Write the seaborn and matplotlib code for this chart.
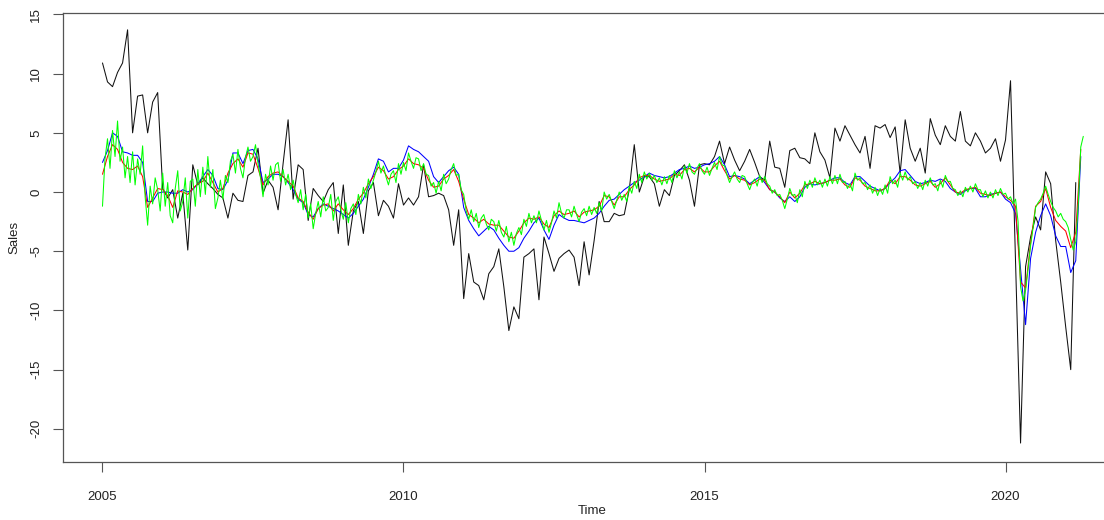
import numpy as np
import pandas as pd
import matplotlib
matplotlib.use("Agg")
import matplotlib.pyplot as plt
from matplotlib import font_manager
import seaborn as sns

# ---- monthly sales (black), Jan 2005 - Mar 2021 ----
sales = [
    10.9, 9.3, 8.9, 10.1, 10.9, 13.7, 5.0, 8.1, 8.2, 5.0, 7.6, 8.4,
    0.3, -0.5, 0.2, -2.2, -0.1, -4.9, 2.3, 0.6, 1.2, 0.7, 0.3, -0.2,
    -0.5, -2.2, -0.1, -0.7, -0.8, 1.4, 1.7, 3.7, -0.1, 1.0, 0.4, -1.5,
    2.4, 6.1, -0.6, 2.3, 1.9, -2.4, 0.3, -0.3, -0.8, 0.2, 0.8, -3.5,
    0.6, -4.5, -1.6, -0.8, -3.5, 0.1, 0.8, -2.0, -0.7, -1.2, -2.2, 0.7,
    -1.1, -0.5, -1.1, -0.4, 2.3, -0.4, -0.3, -0.1, -0.3, -1.5, -4.5, -1.5,
    -9.0, -5.2, -7.6, -7.9, -9.1, -6.9, -6.3, -4.8, -8.0, -11.7, -9.7, -10.7,
    -5.5, -5.2, -4.8, -9.1, -3.8, -5.2, -6.7, -5.6, -5.2, -4.9, -5.5, -7.9,
    -4.2, -7.0, -4.1, -0.8, -2.5, -2.5, -1.8, -2.0, -1.9, 0.2, 4.0, 0.0,
    1.3, 1.3, 0.7, -1.2, 0.2, -0.3, 1.4, 1.8, 2.3, 1.0, -1.2, 2.3,
    2.4, 2.3, 3.0, 4.3, 2.4, 3.8, 2.7, 1.8, 2.6, 3.6, 2.5, 1.3,
    1.0, 4.3, 2.1, 2.0, 0.4, 3.5, 3.7, 2.9, 2.8, 2.4, 5.0, 3.4,
    2.7, 1.2, 5.4, 4.3, 5.6, 4.8, 4.0, 3.3, 4.7, 2.0, 5.6, 5.4,
    5.7, 4.6, 5.5, 1.6, 6.1, 3.7, 2.6, 3.7, 1.6, 6.2, 4.8, 4.0,
    5.6, 4.7, 4.3, 6.8, 4.3, 3.9, 5.0, 4.3, 3.3, 3.7, 4.5, 2.6,
    4.4, 9.4, -6.0, -21.2, -6.3, -3.8, -2.1, -3.2, 1.7, 0.7, -4.1, -7.6,
    -11.4, -15.0, 0.8,
]

# ---- smoothed fit (blue), Jan 2005 - Apr 2021 ----
fit_blue = [
    2.5, 3.5, 5.0, 4.7, 3.4, 3.3, 3.1, 3.1, 2.5, -0.8, -0.8, -0.1,
    0.0, 0.0, -0.1, -0.1, 0.2, 0.0, 0.2, 0.7, 1.3, 1.9, 1.4, 0.3,
    0.2, 1.0, 3.3, 3.3, 2.4, 3.5, 3.6, 2.8, 0.8, 1.1, 1.5, 1.5,
    1.3, 0.8, 0.2, -0.6, -0.9, -1.9, -2.1, -1.4, -1.0, -1.2, -1.4, -1.6,
    -1.9, -2.2, -1.8, -1.2, -0.6, 0.4, 1.5, 2.8, 2.6, 1.7, 2.0, 2.0,
    2.7, 3.9, 3.6, 3.4, 3.0, 2.6, 1.3, 0.8, 1.3, 1.8, 2.1, 1.5,
    -1.3, -2.4, -3.1, -3.7, -3.3, -2.9, -3.2, -3.9, -4.5, -5.0, -5.0, -4.7,
    -3.9, -3.3, -2.6, -2.2, -3.2, -4.0, -2.8, -1.9, -2.2, -2.4, -2.4, -2.5,
    -2.6, -2.4, -2.2, -1.8, -1.2, -0.7, -0.6, -0.2, 0.2, 0.5, 0.8, 1.0,
    1.3, 1.6, 1.4, 1.3, 1.2, 1.3, 1.6, 1.9, 2.0, 2.2, 2.0, 2.1,
    2.3, 2.4, 2.6, 3.0, 2.3, 1.3, 1.4, 1.3, 1.1, 0.7, 1.0, 1.3,
    0.8, 0.2, 0.0, -0.5, -0.8, -0.4, -0.8, -0.4, 0.4, 0.7, 0.6, 0.7,
    0.8, 1.0, 1.2, 1.2, 0.8, 0.6, 1.3, 1.3, 0.9, 0.5, 0.3, 0.1,
    0.3, 0.8, 1.2, 1.8, 1.9, 1.4, 0.9, 0.7, 0.8, 1.0, 0.9, 1.1,
    0.9, 0.3, 0.0, -0.2, 0.1, 0.3, 0.3, -0.4, -0.4, -0.2, -0.1, 0.0,
    -0.6, -0.9, -1.8, -6.5, -11.2, -5.6, -3.4, -2.0, -1.0, -2.0, -3.7, -4.6,
    -4.6, -6.8, -5.8, 3.0,
]

# ---- smoothed fit (red), Jan 2005 - Apr 2021 ----
fit_red = [
    1.5, 3.0, 4.0, 3.6, 2.5, 2.0, 1.9, 2.2, 1.3, -1.3, -0.5, 0.3,
    0.2, -0.3, -1.3, 0.1, 0.0, -0.2, 0.3, 0.7, 0.9, 1.6, 0.8, 0.0,
    0.3, 1.6, 2.4, 2.8, 2.1, 3.3, 3.2, 2.0, 0.6, 1.3, 1.6, 1.7,
    1.3, 0.9, 0.5, -0.5, -0.8, -1.7, -2.3, -1.4, -1.1, -1.0, -1.6, -1.0,
    -1.5, -1.9, -1.4, -0.6, -0.1, 0.7, 1.3, 2.1, 1.8, 1.1, 1.3, 1.9,
    2.2, 2.8, 2.4, 2.3, 2.0, 1.0, 0.4, 0.5, 1.1, 1.4, 1.9, 0.9,
    -0.6, -1.9, -2.2, -2.6, -2.3, -2.7, -2.8, -2.8, -3.3, -3.8, -3.9, -3.3,
    -2.6, -2.2, -2.3, -2.1, -2.7, -3.0, -2.0, -1.6, -1.9, -1.8, -1.6, -2.1,
    -1.7, -1.6, -1.5, -1.2, -0.3, -0.4, -1.1, -0.4, -0.4, 0.2, 0.6, 1.2,
    1.4, 1.4, 1.1, 0.9, 1.0, 1.1, 1.5, 1.4, 1.9, 2.0, 1.7, 2.1,
    1.7, 1.7, 2.2, 2.6, 1.8, 1.1, 1.4, 1.1, 1.0, 0.6, 0.8, 1.1,
    1.0, 0.2, 0.0, -0.4, -0.9, 0.0, -0.5, -0.1, 0.6, 0.7, 0.9, 0.7,
    0.8, 1.0, 1.0, 1.1, 0.6, 0.4, 1.2, 1.0, 0.5, 0.3, 0.1, 0.1,
    0.3, 1.0, 0.7, 1.3, 1.3, 1.0, 0.6, 0.5, 0.7, 0.9, 0.4, 0.7,
    1.2, 0.6, 0.0, -0.1, 0.2, 0.3, 0.4, -0.1, -0.2, -0.3, -0.1, 0.0,
    -0.4, -0.7, -1.2, -7.6, -8.1, -4.3, -1.2, -0.8, 0.3, -1.3, -2.4, -2.9,
    -3.3, -4.7, -3.4, 3.6,
]

# ---- half-monthly fit (green), Jan 2005 - Apr 2021 ----
fit_green = [
    -1.2, 2.8, 4.5, 2.0, 5.2, 3.0, 6.0, 2.6, 3.8, 1.2, 3.0, 0.8,
    3.4, 0.6, 2.8, 1.5, 3.9, -0.4, -2.8, 0.5, -1.0, 1.2, 0.2, -1.6,
    1.6, -1.2, 0.8, -2.0, -2.6, 0.3, 1.8, -1.6, -0.8, 1.2, -2.2, 0.9,
    1.1, -1.2, 1.9, -0.4, 2.1, -0.2, 3.0, 0.4, 1.9, -1.4, -0.5, 1.0,
    -0.6, 1.4, 0.8, 2.6, 3.2, 1.6, 3.6, 2.0, 1.2, 2.9, 3.8, 2.6,
    3.0, 4.0, 2.4, 1.2, -0.4, 1.5, 0.6, 2.2, 1.0, 2.3, 2.5, 0.9,
    1.9, 0.6, 1.5, 0.2, 1.0, -0.2, -0.9, 0.2, -1.5, -0.2, -2.2, -1.0,
    -3.1, -1.8, -0.8, -2.1, -0.4, -1.6, -1.3, -0.2, -2.4, -0.8, -0.4, -1.5,
    -2.3, -0.9, -2.6, -1.4, -1.0, -1.9, -0.2, -1.0, 0.4, -0.5, 1.1, 0.3,
    1.0, 1.7, 2.6, 1.6, 2.2, 1.3, 0.6, 1.5, 1.8, 0.8, 2.4, 1.5,
    2.5, 1.8, 3.3, 2.6, 2.0, 2.9, 2.8, 1.8, 2.4, 1.5, 1.4, 0.5,
    0.8, -0.1, 0.9, 0.1, 1.5, 0.7, 1.1, 1.9, 2.4, 1.4, 1.5, 0.2,
    -0.2, -1.6, -2.3, -1.5, -2.5, -1.8, -3.0, -2.2, -1.9, -2.7, -3.2, -2.3,
    -2.5, -3.3, -2.4, -3.4, -3.8, -2.9, -4.2, -3.4, -4.5, -3.5, -3.0, -3.6,
    -2.3, -2.9, -1.8, -2.6, -2.0, -2.6, -1.6, -2.4, -3.2, -2.4, -3.4, -2.6,
    -1.6, -2.2, -0.9, -1.8, -2.2, -1.5, -1.5, -2.1, -1.2, -1.9, -2.5, -1.7,
    -1.4, -2.0, -1.2, -1.9, -1.3, -1.8, -0.9, -1.6, 0.0, -0.6, -0.2, -0.8,
    -1.4, -0.7, 0.0, -0.7, -0.2, -0.8, 0.5, -0.1, 0.9, 0.3, 1.5, 0.8,
    1.7, 1.1, 1.6, 1.0, 1.4, 0.8, 1.2, 0.6, 1.3, 0.7, 1.4, 0.8,
    1.8, 1.2, 1.7, 1.1, 2.2, 1.6, 2.4, 1.7, 1.5, 2.0, 2.4, 1.8,
    1.5, 2.1, 1.4, 2.0, 2.5, 1.9, 3.0, 2.3, 2.2, 1.4, 0.8, 1.3,
    1.7, 1.1, 0.8, 1.4, 1.3, 0.7, 0.2, 0.8, 1.1, 0.5, 1.4, 0.8,
    1.3, 0.7, 0.5, -0.1, 0.2, -0.3, -0.2, -0.7, -1.4, -0.6, 0.3, -0.3,
    -0.2, -0.9, 0.2, -0.4, 0.9, 0.3, 1.0, 0.4, 1.2, 0.6, 1.0, 0.4,
    1.1, 0.5, 1.3, 0.7, 1.4, 0.7, 1.5, 0.8, 0.9, 0.3, 0.7, 0.1,
    1.6, 1.0, 1.2, 0.7, 0.8, 0.2, 0.6, -0.1, 0.4, -0.3, 0.3, -0.2,
    0.6, -0.1, 1.3, 0.7, 1.0, 0.4, 1.6, 1.0, 1.7, 1.0, 1.3, 0.7,
    0.9, 0.3, 0.8, 0.2, 1.0, 0.5, 1.2, 0.6, 0.7, 0.1, 1.0, 0.4,
    1.4, 0.9, 0.9, 0.3, 0.2, -0.3, 0.1, -0.4, 0.4, 0.0, 0.5, 0.0,
    0.7, 0.2, 0.2, -0.4, 0.1, -0.5, 0.0, -0.5, 0.2, -0.3, 0.3, -0.2,
    -0.1, -0.6, -0.4, -1.0, -0.6, -2.5, -8.0, -9.2, -8.3, -6.5, -4.5, -3.0,
    -1.3, -0.9, -0.6, -0.1, 0.5, -0.2, -0.8, -1.3, -1.6, -2.1, -1.8, -2.3,
    -2.5, -3.0, -4.0, -4.9, -4.2, -1.0, 3.8, 4.7,
]

x_ticks = [2005, 2010, 2015, 2020]
y_ticks = [-20, -15, -10, -5, 0, 5, 10, 15]

# time index of each series (monthly / half-monthly from 2005)
t_sales = 2005 + np.arange(len(sales)) / 12
t_month = 2005 + np.arange(len(fit_blue)) / 12
t_half = 2005 + np.arange(len(fit_green)) / 24

sns.set_theme(style="white")
available = {f.name for f in font_manager.fontManager.ttflist}
family = ["Liberation Sans Narrow"] if "Liberation Sans Narrow" in available else []
plt.rcParams["font.family"] = family + ["Liberation Sans", "DejaVu Sans"]

fig = plt.figure(figsize=(11.04, 5.2), dpi=100)
ax = fig.add_axes([63 / 1104, 1 - 462 / 520, (1122 - 63) / 1104, (462 - 13) / 520])

lw = 0.75
sns.lineplot(x=t_sales, y=sales, ax=ax, color="#111111", lw=lw,
             estimator=None, sort=False)
sns.lineplot(x=t_month, y=fit_blue, ax=ax, color="#0000ff", lw=lw,
             estimator=None, sort=False)
sns.lineplot(x=t_month, y=fit_red, ax=ax, color="#ff0000", lw=lw,
             estimator=None, sort=False)
sns.lineplot(x=t_half, y=fit_green, ax=ax, color="#00ff00", lw=lw,
             estimator=None, sort=False)

ax.set_xlim(2004.344, 2021.935)
ax.set_ylim(-22.8, 15.12)
ax.set_xticks(x_ticks)
ax.set_xticklabels([str(v) for v in x_ticks])
ax.set_yticks(y_ticks)
ax.set_yticklabels([str(v) for v in y_ticks], rotation=90, va="center")

for side in ("left", "bottom", "top", "right"):
    ax.spines[side].set_color("#555555")
    ax.spines[side].set_linewidth(0.9)

ax.tick_params(axis="both", which="major", bottom=True, left=True,
               top=False, right=False, direction="out", length=7, width=0.8,
               colors="#555555", labelcolor="#222222", labelsize=9.5)
ax.tick_params(axis="x", pad=14)
ax.tick_params(axis="y", pad=8)

ax.set_xlabel("Time", fontsize=9.5, color="#222222", labelpad=1)
ax.set_ylabel("Sales", fontsize=9.5, color="#222222", labelpad=7)

fig.savefig("out.png", dpi=100)
